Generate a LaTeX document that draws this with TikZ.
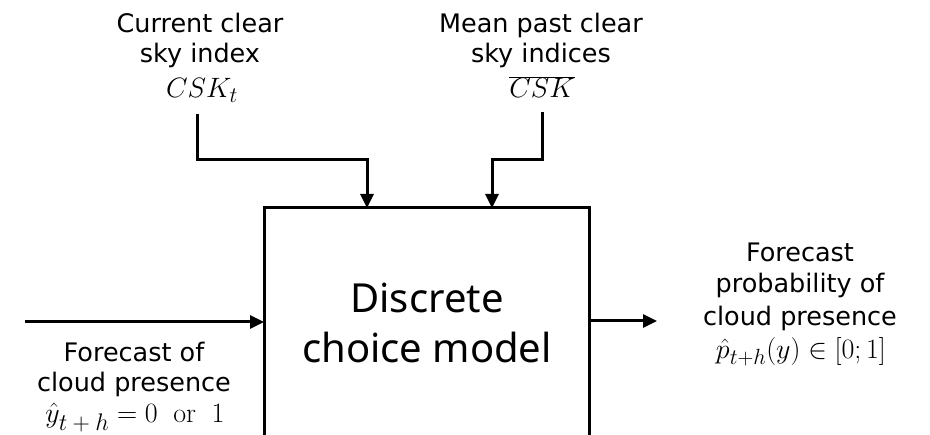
\RequirePackage{fix-cm}
\documentclass[tikz,border=0pt]{standalone}
\usepackage[no-math]{fontspec}
\setmainfont{DejaVu Sans}
\newfontfamily\boxfont{Noto Sans}
\usetikzlibrary{arrows.meta}
% formulas: large subscripts
\DeclareMathSizes{28}{28}{22}{17}
\newcommand{\bigsub}[1]{\mbox{\fontsize{24}{28}\selectfont$#1$}}

\begin{document}
\begin{tikzpicture}[x=1pt,y=-1pt,
  wire/.style={line width=3pt},
  feed/.style={wire,-{Triangle[length=14pt,width=13pt]}},
  txt/.style={inner sep=0pt,anchor=base,font=\fontsize{25.5}{30}\selectfont},
  mth/.style={inner sep=0pt,anchor=base,font=\fontsize{28}{32}\selectfont},
  big/.style={inner sep=0pt,anchor=base,font=\boxfont\fontsize{40}{48}\selectfont},
]
\useasboundingbox (0,0) rectangle (930,435);
\clip (0,0) rectangle (930,435);

% model block (its lower edge lies below the frame)
\coordinate (bl) at (264,470);
\coordinate (tr) at (589,208);
\draw[wire] (bl) |- (tr) -- (589,470);
\node[big] (d1) at (427,313) {Discrete};
\node[big] (d2) at (427,363) {choice model};

% inputs from above
\node[txt] (a1) at (200,33) {Current clear};
\node[txt] (a2) at (200,63) {sky index};
\node[mth] (a3) at (202,98) {$CSK_t$};
\node[txt] (b1) at (541,33) {Mean past clear};
\node[txt] (b2) at (541,63) {sky indices};
\node[mth] (b3) at (542,98) {$\overline{CSK}$};

\coordinate (ain) at (367,208);
\coordinate (bin) at (492,208);
\draw[feed] (197,114) |- (367,160) -- (ain);
\draw[feed] (542,112) |- (492,160) -- (bin);

% input from the left
\coordinate (lin) at (25,322);
\coordinate (lend) at (264,322);
\draw[feed] (lin) -- (lend);
\node[txt] (c1) at (134,362) {Forecast of};
\node[txt] (c2) at (134,392) {cloud presence};
\node[mth] (c3) at (135,423) {$\hat{y}_{\bigsub{t+h}} = 0\;\;\mathrm{or}\;\;1$};

% output to the right
\coordinate (rout) at (589,321);
\coordinate (rend) at (657,321);
\draw[feed] (rout) -- (rend);
\node[txt] (e1) at (800,262) {Forecast};
\node[txt] (e2) at (800,293) {probability of};
\node[txt] (e3) at (800,326) {cloud presence};
\node[mth] (e4) at (801,359) {$\hat{p}_{t+h}(y) \in [0;1]$};
\end{tikzpicture}
\end{document}
